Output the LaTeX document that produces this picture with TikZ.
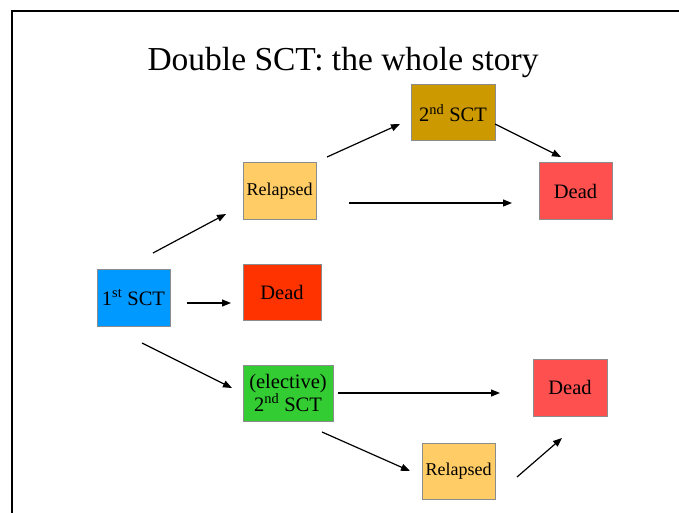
\documentclass[tikz,border=0pt]{standalone}
\usepackage{fontspec}
\setmainfont{Liberation Serif}
\usetikzlibrary{arrows.meta}
\definecolor{goldbox}{HTML}{CC9900}
\definecolor{relbox}{HTML}{FFCC66}
\definecolor{deadbox}{HTML}{FF5050}
\definecolor{deadred}{HTML}{FF3300}
\definecolor{bluebox}{HTML}{0099FF}
\definecolor{greenbox}{HTML}{33CC33}
\definecolor{boxline}{HTML}{8C8C8C}
\begin{document}
\begin{tikzpicture}[x=1pt,y=-1pt,
  box/.style={draw=boxline, line width=1pt, inner sep=0pt, align=center, font=\rmfamily\fontsize{20.5}{23}\selectfont},
  relfont/.style={font=\rmfamily\fontsize{18}{20}\selectfont},
  arr/.style={-{Triangle[length=9pt,width=7pt]}, line width=1.2pt}]
\useasboundingbox (0,0) rectangle (679,513);
\draw[line width=2pt] (11.5,513) -- (11.5,11) -- (679,11);
\node[font=\rmfamily\fontsize{33.5}{40}\selectfont] (title) at (343,62) {Double SCT: the whole story};
\node[box, fill=bluebox, minimum width=73pt, minimum height=57pt] (sct1) at (133.5,297.5) {1\textsuperscript{st} SCT};
\node[box, relfont, fill=relbox, minimum width=73pt, minimum height=56pt] (rel1) at (279.5,191) {Relapsed};
\node[box, fill=deadred, minimum width=78pt, minimum height=56pt] (dead0) at (282,292) {Dead};
\node[box, fill=greenbox, minimum width=90pt, minimum height=56pt] (elec) at (288,393) {(elective)\\2\textsuperscript{nd} SCT};
\node[box, fill=deadbox, minimum width=74pt, minimum height=57pt] (dead3) at (570,387.5) {Dead};
\node[box, relfont, fill=relbox, minimum width=73pt, minimum height=56pt] (rel2) at (458.5,471) {Relapsed};
\node[box, fill=goldbox, minimum width=84pt, minimum height=56pt] (sct2) at (453,113) {2\textsuperscript{nd} SCT};
\node[box, fill=deadbox, minimum width=73pt, minimum height=56pt] (dead1) at (575.5,191) {Dead};
\draw[arr] ([shift={(19.5,-44.5)}]sct1.center) -- ([shift={(-53.5,23)}]rel1.center);
\draw[arr] ([shift={(53.5,5.5)}]sct1.center) -- ([shift={(-51,11)}]dead0.center);
\draw[arr] ([shift={(8.5,45.5)}]sct1.center) -- ([shift={(-56,-5)}]elec.center);
\draw[arr] ([shift={(47.5,-34)}]rel1.center) -- ([shift={(-53,11)}]sct2.center);
\draw[arr] ([shift={(42,11)}]sct2.center) -- ([shift={(-14.5,-34)}]dead1.center);
\draw[arr] ([shift={(69.5,12)}]rel1.center) -- ([shift={(-63.5,12)}]dead1.center);
\draw[arr] ([shift={(50,0)}]elec.center) -- ([shift={(-70,5.5)}]dead3.center);
\draw[arr] ([shift={(34,39)}]elec.center) -- ([shift={(-48.5,0)}]rel2.center);
\draw[arr] ([shift={(58.5,6)}]rel2.center) -- ([shift={(-8,50.5)}]dead3.center);
\end{tikzpicture}
\end{document}
